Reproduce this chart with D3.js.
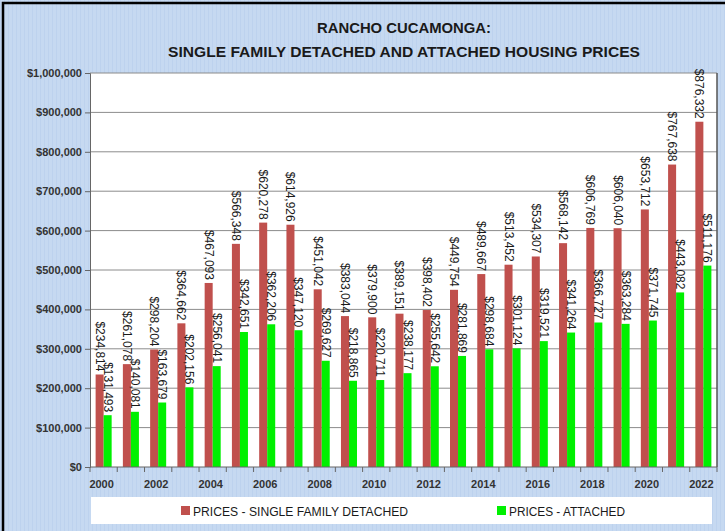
<!DOCTYPE html>
<html>
<head>
<meta charset="utf-8">
<script src="https://cdn.jsdelivr.net/npm/d3@7"></script>
<style>
html,body{margin:0;padding:0;background:#c6d9f1;}
svg{display:block;}
</style>
</head>
<body>
<svg id="chart" width="725" height="531"></svg>
<script>
const years = [2000,2001,2002,2003,2004,2005,2006,2007,2008,2009,2010,2011,2012,2013,2014,2015,2016,2017,2018,2019,2020,2021,2022];
const detached = [234814,261078,298204,364662,467093,566348,620278,614926,451042,383044,379900,389151,398402,449754,489667,513452,534307,568142,606769,606040,653712,767638,876332];
const attached = [131493,140081,163679,202156,256041,342651,362206,347120,269627,218865,220711,238177,255642,281869,298684,301124,319521,341264,366727,363284,371745,443082,511176];
const yTicks = [0,100000,200000,300000,400000,500000,600000,700000,800000,900000,1000000];
const xLabelYears = [2000,2002,2004,2006,2008,2010,2012,2014,2016,2018,2020,2022];
const seriesNames = ["PRICES - SINGLE FAMILY DETACHED","PRICES - ATTACHED"];
const titleLines = ["RANCHO CUCAMONGA:","SINGLE FAMILY DETACHED AND ATTACHED HOUSING PRICES"];

const colors = ["#c0504d","#00f000"];
const svg = d3.select("#chart");
const W = 725, H = 531;
const L = 90, R = 717, T = 73, B = 467;

// background pattern
const defs = svg.append("defs");
const pat = defs.append("pattern").attr("id","bgp").attr("width",4).attr("height",4).attr("patternUnits","userSpaceOnUse");
pat.append("rect").attr("width",4).attr("height",4).attr("fill","#c6d9f1");
pat.append("rect").attr("width",1).attr("height",4).attr("fill","#bdd2ee");
svg.append("rect").attr("x",0).attr("y",0).attr("width",W).attr("height",H).attr("fill","url(#bgp)");
svg.append("rect").attr("x",3).attr("y",3).attr("width",W+10).attr("height",H+10).attr("fill","none").attr("stroke","#000").attr("stroke-width",2.5);

// title
svg.append("g").selectAll("text").data(titleLines).join("text")
  .attr("x",404).attr("y",(d,i)=>33+i*24)
  .attr("text-anchor","middle")
  .attr("font-family","Liberation Sans, Arial, sans-serif")
  .attr("font-weight","bold").attr("font-size",15.5).attr("fill","#1a1a1a")
  .attr("textLength",(d,i)=>i===0?174:472).attr("lengthAdjust","spacingAndGlyphs")
  .text(d=>d);

const x = d3.scaleBand().domain(years).range([L,R]).paddingInner(0).paddingOuter(0);
const x1 = d3.scaleBand().domain([0,1]).range([0,x.bandwidth()]).paddingInner(0).paddingOuter(0.7);
const y = d3.scaleLinear().domain([0,1000000]).range([B,T]);

// plot area
svg.append("rect").attr("x",L).attr("y",T).attr("width",R-L).attr("height",B-T).attr("fill","#fff");
svg.append("g").selectAll("line").data(yTicks.slice(1)).join("line")
  .attr("x1",L).attr("x2",R).attr("y1",d=>y(d)).attr("y2",d=>y(d))
  .attr("stroke","#8c8c8c").attr("stroke-width",1);
svg.append("line").attr("x1",R).attr("x2",R).attr("y1",T).attr("y2",B).attr("stroke","#555").attr("stroke-width",1.5);

// bars
const data = years.map((yr,i)=>({year:yr, vals:[detached[i],attached[i]]}));
const gBars = svg.append("g");
data.forEach(d=>{
  d.vals.forEach((v,k)=>{
    gBars.append("rect")
      .attr("x",x(d.year)+x1(k)).attr("width",x1.bandwidth())
      .attr("y",y(v)).attr("height",B-y(v))
      .attr("fill",colors[k]);
  });
});
// labels
const fmt = d3.format("$,");
const gLab = svg.append("g");
data.forEach(d=>{
  d.vals.forEach((v,k)=>{
    const cx = x(d.year)+x1(k)+x1.bandwidth()/2;
    gLab.append("text")
      .attr("transform",`translate(${cx},${y(v)-3}) rotate(90)`)
      .attr("text-anchor","end").attr("dominant-baseline","central")
      .attr("font-family","Liberation Sans, Arial, sans-serif").attr("font-size",12)
      .attr("fill","#1a1a1a").text(fmt(v));
  });
});

// y axis
const yAxis = d3.axisLeft(y).tickValues(yTicks).tickSize(5).tickFormat(d3.format("$,"));
const gy = svg.append("g").attr("transform",`translate(${L},0)`).call(yAxis);
gy.select(".domain").attr("stroke","#666");
gy.selectAll(".tick line").attr("stroke","#666");
gy.selectAll(".tick text").attr("font-family","Liberation Sans, Arial, sans-serif")
  .attr("font-size",11).attr("fill","#333").attr("font-weight","bold").attr("x",-8);

// x axis
svg.append("line").attr("x1",L).attr("x2",R).attr("y1",B).attr("y2",B).attr("stroke","#666");
const bounds = years.map(yr=>x(yr)).concat([R]);
svg.append("g").selectAll("line").data(bounds).join("line")
  .attr("x1",d=>d).attr("x2",d=>d).attr("y1",B).attr("y2",B+5).attr("stroke","#666");
svg.append("g").selectAll("text").data(xLabelYears).join("text")
  .attr("x",d=>x(d)+x.bandwidth()/2-2).attr("y",B+21)
  .attr("text-anchor","middle")
  .attr("font-family","Liberation Sans, Arial, sans-serif").attr("font-size",11)
  .attr("font-weight","bold").attr("fill","#333").text(d=>d);

// legend
svg.append("rect").attr("x",91).attr("y",497).attr("width",621).attr("height",27).attr("fill","#fff");
const legX = [181,497];
seriesNames.forEach((n,k)=>{
  svg.append("rect").attr("x",legX[k]).attr("y",506).attr("width",9).attr("height",9).attr("fill",colors[k]);
  svg.append("text").attr("x",legX[k]+12).attr("y",515.5)
    .attr("font-family","Liberation Sans, Arial, sans-serif").attr("font-size",12.5)
    .attr("fill","#1a1a1a")
    .attr("textLength",k===0?215:116).attr("lengthAdjust","spacingAndGlyphs")
    .text(n);
});
</script>
</body>
</html>
